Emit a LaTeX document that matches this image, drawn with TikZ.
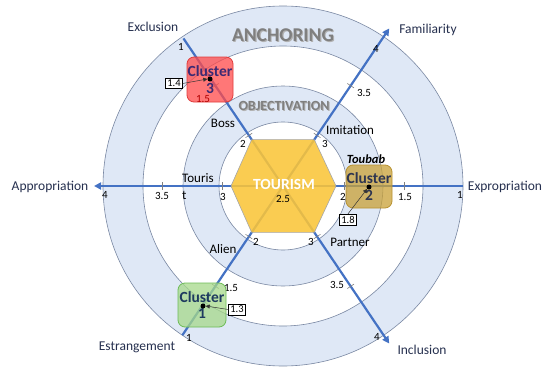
\documentclass[tikz,border=0pt]{standalone}
\usepackage{fontspec}
\setmainfont{Carlito}
\usetikzlibrary{arrows.meta,calc}
\definecolor{ring}{HTML}{DFE8F6}
\definecolor{ringline}{HTML}{7A88A3}
\definecolor{axisblue}{HTML}{4472C4}
\definecolor{navy}{HTML}{26304F}
\definecolor{hexfill}{HTML}{FAC53A}
\definecolor{c3fill}{HTML}{FF4A4A}
\definecolor{c3line}{HTML}{E03C3C}
\definecolor{c3text}{HTML}{3D2A73}
\definecolor{c2fill}{HTML}{C9A136}
\definecolor{c2line}{HTML}{B89232}
\definecolor{c2text}{HTML}{2E3550}
\definecolor{c1fill}{HTML}{A6D98A}
\definecolor{c1line}{HTML}{6DBB57}
\definecolor{c1text}{HTML}{1E3A5F}
\definecolor{ringtext}{HTML}{7F7F7F}
\begin{document}
\begin{tikzpicture}[x=1pt,y=-1pt,
  ringcircle/.style={draw=ringline,line width=0.6pt},
  axisline/.style={draw=axisblue,line width=2.2pt},
  axisarrow/.style={axisline,-{Triangle[length=7pt,width=7pt]}},
  tickmark/.style={draw=gray,line width=0.6pt},
  ticklabel/.style={font=\fontsize{11}{12}\selectfont,inner sep=0pt,text=black},
  catlabel/.style={font=\fontsize{13}{14}\selectfont,inner sep=0pt,text=black},
  endlabel/.style={font=\fontsize{13.5}{15}\selectfont,inner sep=0pt,text=navy},
  clusterbox/.style={rounded corners=7pt,line width=0.8pt,fill opacity=0.75,text opacity=1,
     align=center,font=\bfseries\fontsize{15.5}{16.5}\selectfont,inner sep=0pt},
  numbox/.style={draw=black,line width=0.5pt,fill=white,inner sep=1.8pt,font=\fontsize{10.5}{11}\selectfont},
  dotmark/.style={circle,fill=black,inner sep=0pt,minimum size=5pt},
  ptr/.style={draw=black!80,line width=0.5pt,-{Triangle[length=4pt,width=4pt]}}
]
\useasboundingbox (0,0) rectangle (550,375);
\fill[white] (0,0) rectangle (550,375);
\coordinate (O) at (283,186);
% rings
\fill[ring,even odd rule] (O) circle[radius=180pt] (O) circle[radius=140pt];
\fill[ring,even odd rule] (O) circle[radius=100pt] (O) circle[radius=64pt];
\draw[ringcircle] (O) circle[radius=180pt];
\draw[ringcircle] (O) circle[radius=140pt];
\draw[ringcircle] (O) circle[radius=100pt];
\draw[ringcircle] (O) circle[radius=64pt];
% ring titles
\node (anchsh) at (284.2,36.2) {\textcolor{black!30}{\bfseries\fontsize{19.5}{21}\selectfont ANCHORING}};
\node (anch) at (283,35) {\textcolor{ringtext}{\bfseries\fontsize{19.5}{21}\selectfont ANCHORING}};
\node (objsh) at (285,107) {\textcolor{black!30}{\bfseries\fontsize{14}{16}\selectfont OBJECTIVATION}};
\node (obj) at (284,106) {\textcolor{ringtext}{\bfseries\fontsize{14}{16}\selectfont OBJECTIVATION}};
% axis ends
\coordinate (fam) at ($(O)+(-56:190)$);
\coordinate (est) at ($(O)+(124:180)$);
\coordinate (exc) at ($(O)+(-124:178)$);
\coordinate (inc) at ($(O)+(56:190)$);
\coordinate (app) at ($(O)+(180:189)$);
\coordinate (exp) at ($(O)+(0:180)$);
\draw[axisarrow] (exp) -- (app);
\draw[axisarrow] (est) -- (fam);
\draw[axisarrow] (exc) -- (inc);
% hexagon
\coordinate (h0) at ($(O)+(0:53)$);
\coordinate (h1) at ($(O)+(56:56)$);
\coordinate (h2) at ($(O)+(124:56)$);
\coordinate (h3) at ($(O)+(180:52)$);
\coordinate (h4) at ($(O)+(-124:56)$);
\coordinate (h5) at ($(O)+(-56:56)$);
\fill[hexfill,fill opacity=0.88] (h0) -- (h1) -- (h2) -- (h3) -- (h4) -- (h5) -- cycle;
\draw[gray!70,line width=0.6pt] (h0) -- (h1) -- (h2) -- (h3) -- (h4) -- (h5) -- cycle;
% tick marks
\foreach \a in {0,56,124,180,-124,-56}{
  \foreach \r in {61,121}{
    \draw[tickmark] ($(O)+(\a:\r)+(\a+90:4)$) -- ($(O)+(\a:\r)+(\a-90:4)$);
  }
}
% centre labels
\node (tour) at (284,184) {\textcolor{white}{\bfseries\fontsize{15.5}{17}\selectfont TOURISM}};
\node[ticklabel] (t25) at (283,199) {2.5};
% tick labels
\node[ticklabel] (tl4) at (105,195) {4};
\node[ticklabel] (tl35) at (162,196) {3.5};
\node[ticklabel] (tl3) at (223,197) {3};
\node[ticklabel] (tr2) at (343,197) {2};
\node[ticklabel] (tr15) at (405,197) {1.5};
\node[ticklabel] (tr1) at (460,195) {1};
\node[ticklabel] (tf3) at (325,144) {3};
\node[ticklabel] (tf35) at (364,93) {3.5};
\node[ticklabel] (tf4) at (376,49) {4};
\node[ticklabel] (te2) at (243,144) {2};
\node[ticklabel] (te1) at (181,47) {1};
\node[ticklabel] (ts2) at (256,242) {2};
\node[ticklabel] (ts15) at (231,288) {1.5};
\node[ticklabel] (ts1) at (189,338) {1};
\node[ticklabel] (ti3) at (311,242) {3};
\node[ticklabel] (ti35) at (337,285) {3.5};
\node[ticklabel] (ti4) at (377,337) {4};
% category labels
\node[catlabel] (boss) at (223,123) {Boss};
\node[catlabel] (imit) at (350,130) {Imitation};
\node[catlabel,anchor=west] (touris) at (182,178) {Touris};
\node[catlabel,anchor=west] (tourt) at (182,195) {t};
\node[catlabel] (alien) at (223,249) {Alien};
\node[catlabel] (partner) at (350,242) {Partner};
\node[catlabel,font=\bfseries\itshape\fontsize{12.5}{14}\selectfont] (toubab) at (366,159) {Toubab};
% end labels
\node[endlabel] (lexc) at (153,27) {Exclusion};
\node[endlabel] (lfam) at (428,30) {Familiarity};
\node[endlabel] (lapp) at (50,187) {Appropriation};
\node[endlabel] (lexp) at (505,187) {Expropriation};
\node[endlabel] (lest) at (137,347) {Estrangement};
\node[endlabel] (linc) at (422,350) {Inclusion};
% clusters
\node[clusterbox,draw=c3line,fill=c3fill,text=c3text,minimum width=46pt,minimum height=45pt] (cl3) at (210,79.5) {Cluster\\3};
\node[ticklabel,text=red!70!black] (c315) at (203,99) {1.5};
\node[clusterbox,draw=c2line,fill=c2fill,text=c2text,minimum width=46pt,minimum height=43pt] (cl2) at (369,186.5) {Cluster\\2};
\node[clusterbox,draw=c1line,fill=c1fill,text=c1text,minimum width=48pt,minimum height=44pt] (cl1) at (202,305) {Cluster\\1};
% dots
\node[dotmark] (d3) at (210,79) {};
\node[dotmark] (d2) at (369,187) {};
\node[dotmark] (d1) at (203,306) {};
% number boxes
\node[numbox] (n14) at (174,83.5) {1.4};
\node[numbox] (n18) at (348,219.5) {1.8};
\node[numbox] (n13) at (237,309.5) {1.3};
\draw[ptr] (n14.east) -- (d3.west);
\draw[ptr] (n18.north) -- (d2.south west);
\draw[ptr] (n13.west) -- (d1.east);
\end{tikzpicture}
\end{document}
